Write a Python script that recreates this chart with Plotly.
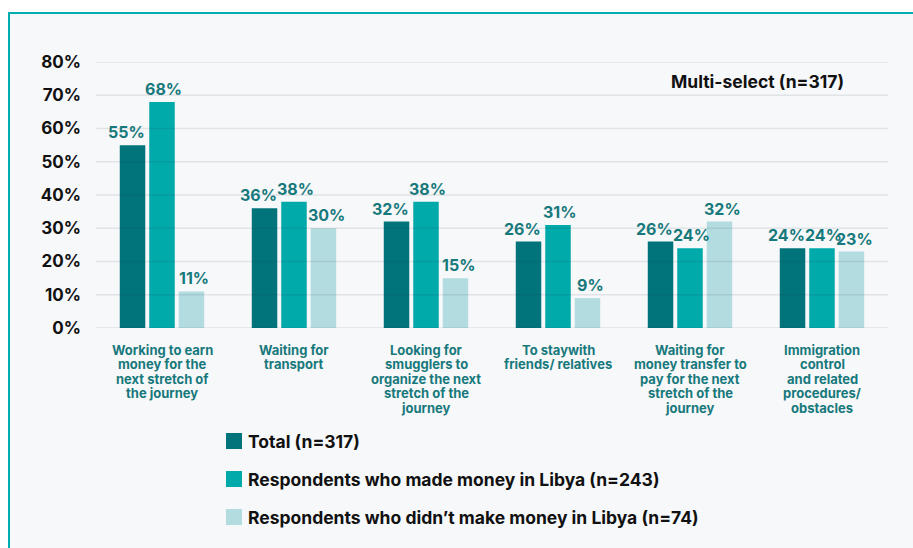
import plotly.graph_objects as go

# Reasons for staying, share of respondents (multi-select)
categories = [
    "Working to earn<br>money for the<br>next stretch of<br>the journey",
    "Waiting for<br>transport",
    "Looking for<br>smugglers to<br>organize the next<br>stretch of the<br>journey",
    "To staywith<br>friends/ relatives",
    "Waiting for<br>money transfer to<br>pay for the next<br>stretch of the<br>journey",
    "Immigration<br>control<br>and related<br>procedures/<br>obstacles",
]
series_names = [
    "Total (n=317)",
    "Respondents who made money in Libya (n=243)",
    "Respondents who didn\u2019t make money in Libya (n=74)",
]
total_pct = [55, 36, 32, 26, 26, 24]
made_money_pct = [68, 38, 38, 31, 24, 24]
no_money_pct = [11, 30, 15, 9, 32, 23]
y_ticks = [0, 10, 20, 30, 40, 50, 60, 70, 80]
note_text = "Multi-select (n=317)"

series_values = [total_pct, made_money_pct, no_money_pct]
colors = ["#00747a", "#00a9aa", "#b3dce1"]
label_nudge = [-6, 1, 3]          # small horizontal nudge of value labels per series
label_color = "#17797c"
FONT = "Inter"

W, H = 913, 548
M_L, M_R, M_T, M_B = 96, 25, 62, 220
PW, PH = W - M_L - M_R, H - M_T - M_B
BARGAP, GROUPGAP = 0.33, 0.135


def px_x(px):
    return (px - M_L) / PW


def px_y(py):
    return (H - M_B - py) / PH


fig = go.Figure()
for name, vals, col in zip(series_names, series_values, colors):
    fig.add_trace(go.Bar(
        x=categories, y=vals, name=name,
        marker=dict(color=col, line=dict(width=0)),
        showlegend=False, hoverinfo="x+y",
    ))

shapes = []
annotations = []

# card background with teal frame
shapes.append(dict(
    type="rect", xref="paper", yref="paper", layer="below",
    x0=px_x(9), x1=px_x(W + 20), y0=px_y(H + 20), y1=px_y(13),
    fillcolor="#f7f8fa", line=dict(color="#00adb0", width=2),
))

# horizontal gridlines drawn over the bars
for t in y_ticks:
    shapes.append(dict(
        type="line", xref="paper", yref="y", layer="above",
        x0=0, x1=1, y0=t, y1=t,
        line=dict(color="rgba(40,50,60,0.10)", width=1.5),
    ))

# value labels above each bar
slot = PW / len(categories) * (1 - BARGAP) / len(series_values)
for i, vals in enumerate(series_values):
    off = (i - (len(series_values) - 1) / 2) * slot + label_nudge[i]
    for cat, v in zip(categories, vals):
        annotations.append(dict(
            x=cat, y=v, xref="x", yref="y", text=f"<b>{v}%</b>",
            showarrow=False, xanchor="center", yanchor="bottom",
            xshift=off, yshift=1,
            font=dict(family=FONT, size=16, color=label_color),
        ))

# category labels, one annotation per line
for cat in categories:
    for k, line in enumerate(cat.split("<br>")):
        annotations.append(dict(
            x=cat, y=0, xref="x", yref="paper", text=f"<b>{line}</b>",
            showarrow=False, xanchor="center", yanchor="middle",
            yshift=-(22 + 14.45 * k),
            font=dict(family=FONT, size=13, color=label_color),
        ))

# note in the top right corner
annotations.append(dict(
    x=px_x(846), y=px_y(81), xref="paper", yref="paper",
    text=f"<b>{note_text}</b>", showarrow=False,
    xanchor="right", yanchor="middle",
    font=dict(family=FONT, size=17.5, color="#111111"),
))

# legend
for k, (name, col) in enumerate(zip(series_names, colors)):
    cy = 441 + 38 * k
    shapes.append(dict(
        type="rect", xref="paper", yref="paper",
        x0=px_x(226), x1=px_x(242), y0=px_y(cy + 8), y1=px_y(cy - 8),
        fillcolor=col, line=dict(width=0),
    ))
    annotations.append(dict(
        x=px_x(246), y=px_y(cy), xref="paper", yref="paper",
        text=f"<b>{name}</b>", showarrow=False,
        xanchor="left", yanchor="middle",
        font=dict(family=FONT, size=17.5, color="#111111"),
    ))

fig.update_layout(
    width=W, height=H,
    margin=dict(l=M_L, r=M_R, t=M_T, b=M_B),
    paper_bgcolor="#ffffff", plot_bgcolor="rgba(0,0,0,0)",
    barmode="group", bargap=BARGAP, bargroupgap=GROUPGAP,
    shapes=shapes, annotations=annotations,
    xaxis=dict(showticklabels=False, showgrid=False, zeroline=False,
               showline=False, ticks=""),
    yaxis=dict(range=[0, 80], tickvals=y_ticks,
               ticktext=[f"<b>{t}%</b>" for t in y_ticks],
               showgrid=False, zeroline=False, showline=False, ticks="",
               ticklabelstandoff=14,
               tickfont=dict(family=FONT, size=17, color="#111111")),
    font=dict(family=FONT),
)

fig.write_html("out.html")
